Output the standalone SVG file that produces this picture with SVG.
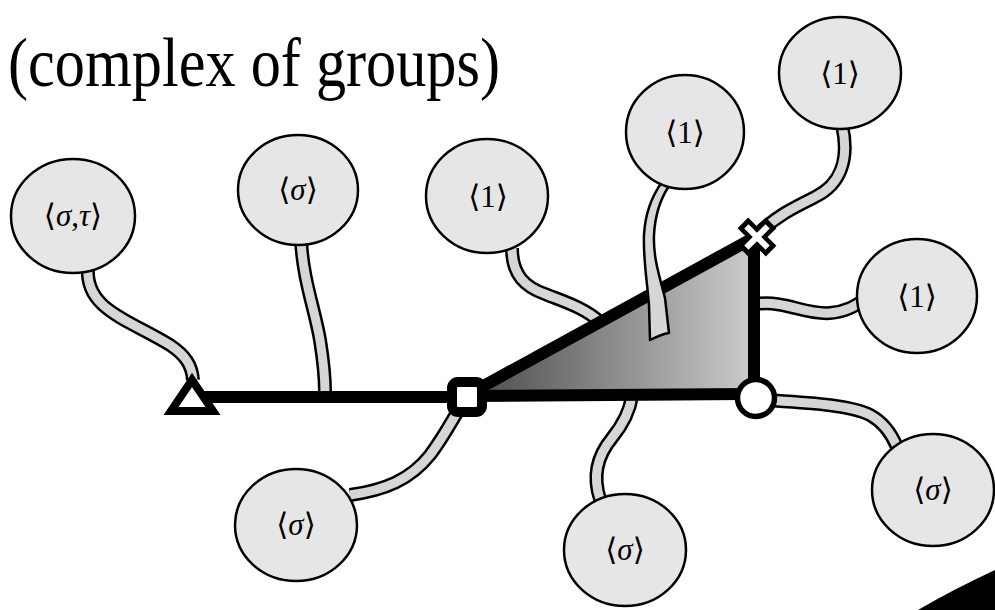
<svg xmlns="http://www.w3.org/2000/svg" width="995" height="610" viewBox="0 0 995 610">
<style>
.rb{fill:none;stroke:#000;stroke-width:14;stroke-linecap:butt}
.ri{fill:none;stroke:#d6d6d6;stroke-width:9;stroke-linecap:butt}
.nd{fill:#e6e6e6;stroke:#000;stroke-width:2.5}
.lb{font-family:"Liberation Serif","DejaVu Serif","Times New Roman",Times,serif;font-size:31px;fill:#000;text-anchor:middle}
.tt{font-family:"Liberation Serif","DejaVu Serif","Times New Roman",Times,serif;font-size:69px;fill:#000}
.ed{stroke:#000;stroke-width:12;stroke-linecap:butt;fill:none}
</style>
<defs>
<linearGradient id="g" gradientUnits="userSpaceOnUse" x1="470" y1="0" x2="756" y2="0">
<stop offset="0" stop-color="#4a4a4a"/>
<stop offset="1" stop-color="#cdcdcd"/>
</linearGradient>
</defs>
<rect width="995" height="610" fill="#fff"/>
<text class="tt" x="8" y="86" textLength="492" lengthAdjust="spacingAndGlyphs">(complex of groups)</text>
<path d="M918 610 Q952 590 995 570 L995 610 Z" fill="#000"/>
<g id="face">
<polygon points="467,396 756,236 756,396" fill="url(#g)"/>
</g>
<g id="connectors">
<path class="rb" d="M88 268 C85 310 130 320 170 345 C185 355 192 365 193 380"/>
<path class="ri" d="M88 268 C85 310 130 320 170 345 C185 355 192 365 193 380"/>
<path class="rb" d="M301 240 C303 280 315 310 320 340 C324 365 325 375 325 392"/>
<path class="ri" d="M301 240 C303 280 315 310 320 340 C324 365 325 375 325 392"/>
<path class="rb" d="M512 248 C512 275 525 287 545 294 C565 302 585 308 600 322"/>
<path class="ri" d="M512 248 C512 275 525 287 545 294 C565 302 585 308 600 322"/>
<path class="rb" d="M842 125 C850 160 840 185 815 197 C795 207 778 215 760 232"/>
<path class="ri" d="M842 125 C850 160 840 185 815 197 C795 207 778 215 760 232"/>
<path class="rb" d="M756 304 C785 300 805 315 830 313 C845 312 855 306 864 300"/>
<path class="ri" d="M756 304 C785 300 805 315 830 313 C845 312 855 306 864 300"/>
<path class="rb" d="M350 495 C385 490 410 480 430 455 C445 435 452 420 460 408"/>
<path class="ri" d="M350 495 C385 490 410 480 430 455 C445 435 452 420 460 408"/>
<path class="rb" d="M600 499 C592 475 598 455 612 438 C625 422 630 410 632 396"/>
<path class="ri" d="M600 499 C592 475 598 455 612 438 C625 422 630 410 632 396"/>
<path class="rb" d="M765 400 C810 403 850 405 870 415 C885 423 892 435 897 447"/>
<path class="ri" d="M765 400 C810 403 850 405 870 415 C885 423 892 435 897 447"/>
<line class="ed" x1="195" y1="397" x2="467" y2="397"/>
<line class="ed" x1="467" y1="396" x2="745" y2="394"/>
<line class="ed" x1="467" y1="395" x2="757" y2="236" stroke-width="11"/>
<line class="ed" x1="754" y1="236" x2="754" y2="398"/>
<path d="M662 182 C652 196 645 215 644 235 C643 258 647 280 649 305 L650 340 C656 337 662 334 669 333 L665 298 C660 278 653 258 654 235 C655 215 661 198 669 186 Z" fill="#d6d6d6" stroke="#000" stroke-width="2.5" stroke-linejoin="round"/>
</g>
<g id="v-triangle">
<polygon points="192,380 171,411 213,411" fill="#fff" stroke="#000" stroke-width="8" stroke-linejoin="miter"/>
</g>
<g id="v-square">
<rect x="452" y="382" width="30" height="30" rx="6" fill="#fff" stroke="#000" stroke-width="10"/>
</g>
<g id="v-circle">
<circle cx="756" cy="398" r="18.5" fill="#fff" stroke="#000" stroke-width="5.5"/>
</g>
<g id="v-cross" transform="translate(757 237) rotate(45)">
<line x1="-20" y1="0" x2="20" y2="0" stroke="#000" stroke-width="15"/>
<line x1="0" y1="-20" x2="0" y2="20" stroke="#000" stroke-width="15"/>
<line x1="-15" y1="0" x2="15" y2="0" stroke="#fff" stroke-width="6"/>
<line x1="0" y1="-15" x2="0" y2="15" stroke="#fff" stroke-width="6"/>
</g>
<g id="n-st"><ellipse class="nd" cx="73" cy="216" rx="62" ry="57"/><text class="lb" x="73" y="226">⟨<tspan font-style="italic">σ</tspan>,<tspan font-style="italic">τ</tspan>⟩</text></g>
<g id="n-s1"><ellipse class="nd" cx="298" cy="190" rx="60" ry="55"/><text class="lb" x="298" y="200">⟨<tspan font-style="italic">σ</tspan>⟩</text></g>
<g id="n-11"><ellipse class="nd" cx="487" cy="196" rx="61" ry="57"/><text class="lb" x="488" y="207">⟨1⟩</text></g>
<g id="n-12"><ellipse class="nd" cx="685" cy="132" rx="59" ry="57"/><text class="lb" x="685" y="143">⟨1⟩</text></g>
<g id="n-13"><ellipse class="nd" cx="840" cy="73" rx="61" ry="56"/><text class="lb" x="840" y="84">⟨1⟩</text></g>
<g id="n-14"><ellipse class="nd" cx="917" cy="296" rx="60" ry="57"/><text class="lb" x="917" y="307">⟨1⟩</text></g>
<g id="n-s2"><ellipse class="nd" cx="296" cy="525" rx="61" ry="56"/><text class="lb" x="296" y="535">⟨<tspan font-style="italic">σ</tspan>⟩</text></g>
<g id="n-s3"><ellipse class="nd" cx="625" cy="550" rx="61" ry="56"/><text class="lb" x="625" y="560">⟨<tspan font-style="italic">σ</tspan>⟩</text></g>
<g id="n-s4"><ellipse class="nd" cx="933" cy="490" rx="61" ry="56"/><text class="lb" x="933" y="500">⟨<tspan font-style="italic">σ</tspan>⟩</text></g>
</svg>
